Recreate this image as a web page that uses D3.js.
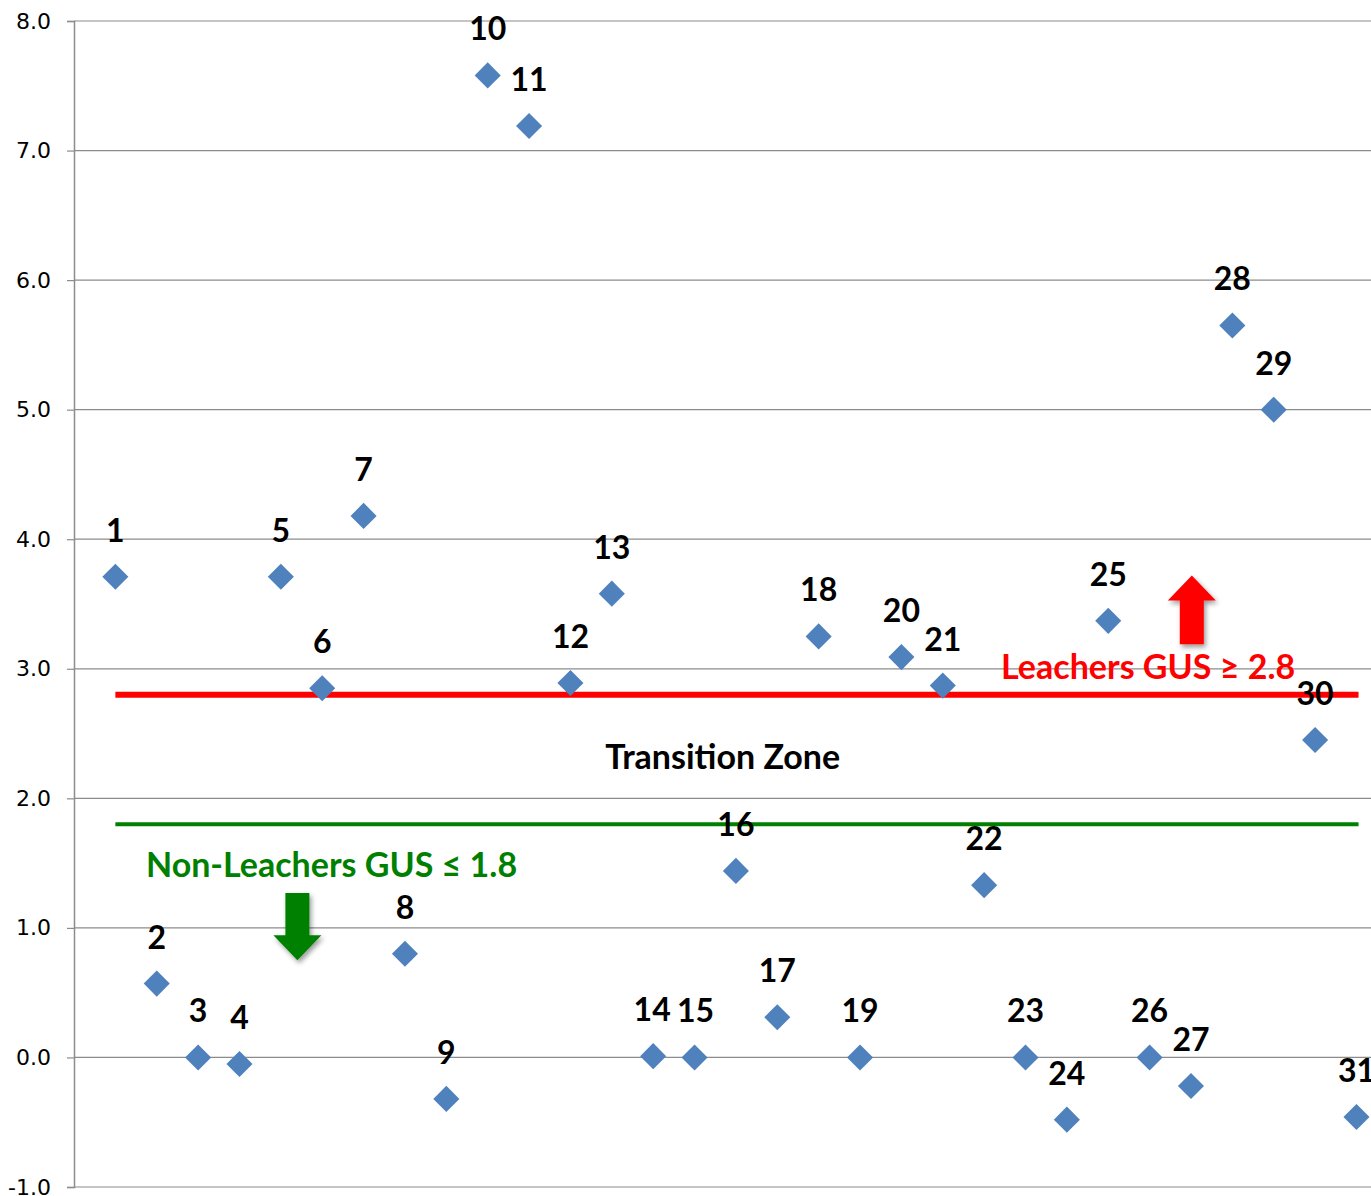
<!DOCTYPE html>
<html>
<head>
<meta charset="utf-8">
<script src="https://cdn.jsdelivr.net/npm/d3@7"></script>
<style>
  body { margin: 0; background: #fff; }
  svg { display: block; }
  .tick-label { font-family: "DejaVu Sans", sans-serif; font-size: 22px; fill: #000; }
  .pt-label { font-family: Lato, "Open Sans", sans-serif; font-weight: bold; font-size: 32px; fill: #000; }
  .note { font-family: Lato, "Open Sans", sans-serif; font-weight: bold; font-size: 34px; }
</style>
</head>
<body>
<svg></svg>
<script>
// GUS values for each compound, numbered 1..31
const ids = d3.range(1, 32);
const gus = [3.71, 0.57, 0.0, -0.05, 3.71, 2.85, 4.18, 0.80, -0.32, 7.58,
             7.19, 2.89, 3.58, 0.01, 0.0, 1.44, 0.31, 3.25, 0.0, 3.09,
             2.87, 1.33, 0.0, -0.48, 3.37, 0.0, -0.22, 5.65, 5.0, 2.45, -0.46];
const yTicks = [-1, 0, 1, 2, 3, 4, 5, 6, 7, 8];
const leacherLimit = 2.8;
const nonLeacherLimit = 1.8;

const width = 1371, height = 1196;
const margin = {top: 21, left: 74, bottom: 9};

const svg = d3.select('svg').attr('width', width).attr('height', height);

const defs = svg.append('defs');
const shadow = defs.append('filter').attr('id', 'shadow')
    .attr('x', '-50%').attr('y', '-50%').attr('width', '200%').attr('height', '200%');
shadow.append('feDropShadow').attr('dx', 2).attr('dy', 3).attr('stdDeviation', 2.5)
    .attr('flood-color', '#000').attr('flood-opacity', 0.4);

const x = d3.scaleLinear().domain([0, 32]).range([margin.left, margin.left + 32 * 41.37]);
const y = d3.scaleLinear().domain([-1, 8]).range([height - margin.bottom, margin.top]);

// gridlines
svg.append('g').selectAll('line').data(yTicks).join('line')
    .attr('x1', margin.left).attr('x2', width)
    .attr('y1', d => y(d)).attr('y2', d => y(d))
    .attr('stroke', '#8c8c8c').attr('stroke-width', 1.2);

// y axis (plain hyphen for negatives, like the original)
const fmt = d3.format('.1f');
const yAxis = svg.append('g').attr('transform', `translate(${margin.left},0)`)
    .call(d3.axisLeft(y).tickValues(yTicks).tickFormat(d => fmt(d).replace('\u2212', '-'))
      .tickSize(7).tickPadding(16));
yAxis.select('.domain').attr('stroke', '#8c8c8c').attr('stroke-width', 1.5);
yAxis.selectAll('.tick line').attr('stroke', '#8c8c8c').attr('stroke-width', 1.2);
yAxis.selectAll('.tick text').attr('class', 'tick-label').attr('font-size', null).attr('font-family', null);

// threshold lines
svg.append('line')
    .attr('x1', x(1)).attr('x2', x(31.05))
    .attr('y1', y(leacherLimit)).attr('y2', y(leacherLimit))
    .attr('stroke', '#ff0000').attr('stroke-width', 6);
svg.append('line')
    .attr('x1', x(1)).attr('x2', x(31.05))
    .attr('y1', y(nonLeacherLimit)).attr('y2', y(nonLeacherLimit))
    .attr('stroke', '#008000').attr('stroke-width', 4);

// arrows
function arrowPath(cx, yTail, yTip) {
  const dir = yTip < yTail ? -1 : 1;
  const headLen = 25, shaftHalf = 12, headHalf = 24;
  const yBase = yTip - dir * headLen;
  return `M${cx - shaftHalf},${yTail} L${cx - shaftHalf},${yBase} L${cx - headHalf},${yBase}` +
         ` L${cx},${yTip} L${cx + headHalf},${yBase} L${cx + shaftHalf},${yBase} L${cx + shaftHalf},${yTail} Z`;
}
svg.append('path')
    .attr('d', arrowPath(x(27.02), y(3.19), y(3.72)))
    .attr('fill', '#ff0000').attr('filter', 'url(#shadow)');
svg.append('path')
    .attr('d', arrowPath(x(5.4), y(1.27), y(0.75)))
    .attr('fill', '#008000').attr('filter', 'url(#shadow)');

// annotation texts
svg.append('text').attr('class', 'note')
    .attr('x', x(22.41)).attr('y', y(2.92)).attr('fill', '#ff0000')
    .text('Leachers GUS \u2265 2.8');
svg.append('text').attr('class', 'note')
    .attr('x', x(1.74)).attr('y', y(1.39)).attr('fill', '#008000')
    .text('Non-Leachers GUS \u2264 1.8');
svg.append('text').attr('class', 'note')
    .attr('x', x(12.84)).attr('y', y(2.23)).attr('fill', '#000')
    .text('Transition Zone');

// points
const pts = ids.map((id, i) => ({id, v: gus[i]}));
svg.append('g').selectAll('path').data(pts).join('path')
    .attr('d', d3.symbol(d3.symbolSquare, 340))
    .attr('transform', d => `translate(${x(d.id)},${y(d.v)}) rotate(45)`)
    .attr('fill', '#4f81bd');

svg.append('g').selectAll('text').data(pts).join('text')
    .attr('class', 'pt-label')
    .attr('x', d => x(d.id) + (d.id === 14 ? -1 : d.id === 15 ? 1 : 0))
    .attr('y', d => y(d.v) - 35)
    .attr('text-anchor', 'middle')
    .text(d => d.id);
</script>
</body>
</html>
